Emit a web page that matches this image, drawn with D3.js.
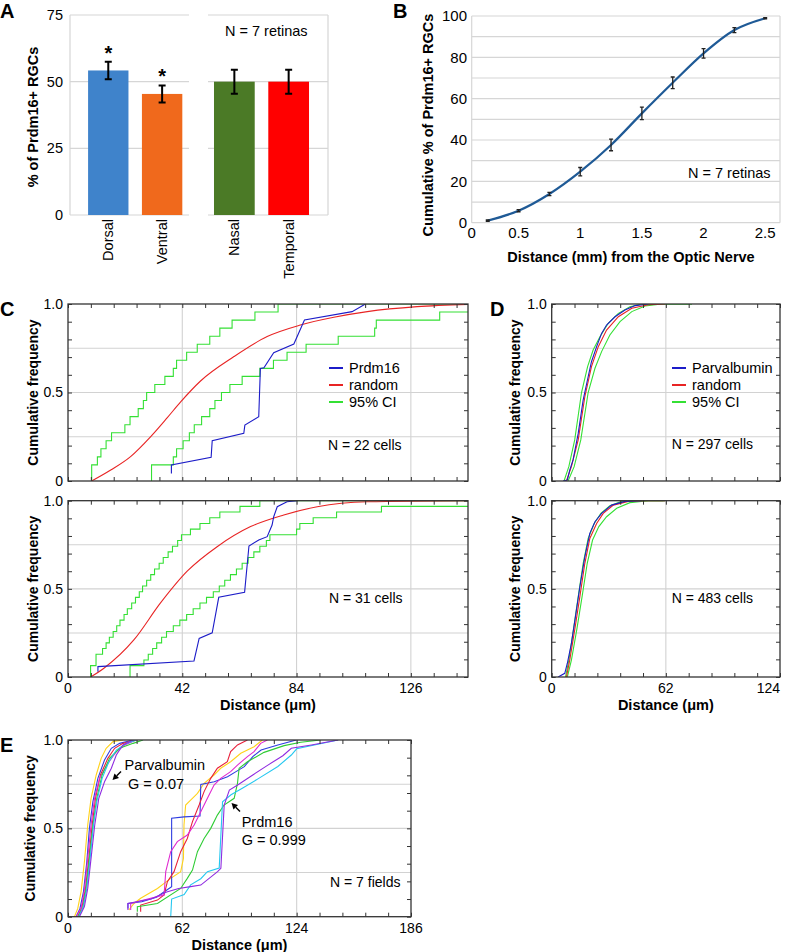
<!DOCTYPE html>
<html>
<head>
<meta charset="utf-8">
<script src="https://cdn.jsdelivr.net/npm/d3@7"></script>
<style>
  body { margin: 0; background: #fff; }
  svg { display: block; font-family: "Liberation Sans", Arial, sans-serif; }
</style>
</head>
<body>
<svg id="fig" width="790" height="952"></svg>
<script>
// ---- panel A : bars ----
const aLeft = ["Dorsal", "Ventral"];
const aRight = ["Nasal", "Temporal"];
const aValues = [54.2, 45.4, 50, 50];
const aErrors = [3.3, 3.2, 4.5, 4.5];
const aColors = ["#3f83cb", "#f0691c", "#4b7a26", "#ff0000"];
const aStars = [true, true, false, false];
const aTicks = [0, 25, 50, 75];

// ---- panel B : cumulative % vs distance ----
const bX = [0.25, 0.5, 0.75, 1, 1.25, 1.5, 1.75, 2, 2.25, 2.5];
const bY = [1.0, 5.8, 13.9, 24.7, 37.6, 52.9, 67.7, 81.9, 93.2, 98.9];
const bErr = [0.3, 0.5, 0.8, 2.0, 2.8, 3.0, 2.8, 2.3, 1.2, 0.3];
const bXTicks = [0.5, 1, 1.5, 2, 2.5];
const bYTicks = [0, 20, 40, 60, 80, 100];

// ---- panel C : Prdm16 vs random (top: 22 cells, bottom: 31 cells) ----
const cTopCiLow = [8.7, 8.7, 10.8, 12.1, 14.0, 16.0, 20.9, 22.8, 25.8, 27.7, 28.9, 31.9, 35.6, 38.7, 39.9, 43.6, 47.5, 52.1, 55.8, 60.3, 68.7, 77.2];
const cTopCiHigh = [30.7, 30.7, 38.7, 39.9, 42.3, 44.6, 46.4, 49.1, 52.1, 54.0, 56.4, 59.5, 64, 70.5, 75.5, 80.5, 87.5, 99.3, 112.7, 113.3, 136.6, 160];
const cTopPrdmX = [38.0, 38.0, 52.6, 53.0, 64.6, 65.0, 70.1, 70.7, 72.0, 75.6, 83.0, 86.9, 104.4, 109.3];
const cTopPrdmY = [0.043, 0.09, 0.134, 0.228, 0.27, 0.316, 0.363, 0.636, 0.64, 0.725, 0.774, 0.91, 0.957, 1.0];
const cTopRandX = [8.7, 15.7, 23.0, 30.4, 36.5, 41.4, 48.7, 61.0, 73.2, 85.4, 97.7, 110.0, 128.3, 147];
const cTopRandY = [0, 0.062, 0.138, 0.251, 0.358, 0.447, 0.565, 0.703, 0.816, 0.881, 0.925, 0.957, 0.985, 0.998];

const cBotCiLow = [8.3, 8.3, 10.3, 10.3, 12.7, 14.0, 15.2, 16.6, 17.9, 19.1, 20.6, 21.8, 23.4, 24.8, 26.2, 27.4, 28.9, 30.4, 31.8, 33.5, 35.0, 36.8, 38.4, 40.3, 41.7, 45.0, 48.5, 52.1, 55.8, 63.2, 70.5];
const cBotCiHigh = [22.8, 22.8, 27.9, 29.5, 31.1, 32.6, 34.4, 36.2, 38.7, 41.1, 43.6, 46.0, 48.5, 50.9, 53.4, 55.6, 57.6, 59.7, 61.9, 64.0, 66.2, 68.3, 70.5, 72.9, 74.2, 84.0, 85.2, 90.1, 98.7, 115.2, 160];
const cBotPrdmX = [11.0, 11.0, 46.3, 48.2, 53.0, 55.4, 64.9, 66.5, 70.1, 73.2, 75.0, 75.6, 76.9, 80.5, 84.2];
const cBotPrdmY = [0.030, 0.059, 0.091, 0.219, 0.251, 0.452, 0.480, 0.743, 0.777, 0.796, 0.862, 0.909, 0.966, 0.994, 1.0];
const cBotRandX = [8.3, 13.2, 24.2, 34.0, 43.8, 54.8, 67.1, 79.3, 91.6, 110, 147];
const cBotRandY = [0, 0.05, 0.21, 0.42, 0.6, 0.739, 0.853, 0.919, 0.966, 0.994, 1.0];

// ---- panel D : Parvalbumin vs random (top: 297 cells, bottom: 483 cells) ----
const dTopPvX = [6.2, 8.5, 9.8, 11.6, 14.4, 17.1, 19.8, 21.6, 24.4, 27.1, 29.8, 34.4, 39.8, 45.3, 52.5];
const dTopPvY = [0, 0.006, 0.062, 0.119, 0.269, 0.458, 0.589, 0.674, 0.759, 0.834, 0.881, 0.928, 0.966, 0.991, 1.0];
const dTopRandX = [8.0, 10.7, 14.4, 18.0, 21.6, 25.3, 29.8, 36.2, 43.5, 52.5, 61.6];
const dTopRandY = [0, 0.081, 0.232, 0.476, 0.646, 0.759, 0.853, 0.928, 0.976, 0.996, 1.0];
const dTopLoX = [6.7, 9.3, 12.5, 16.2, 19.5, 22.5, 26.2, 30.7, 36.2, 42.5, 48.9, 76.2];
const dTopLoY = [0, 0.081, 0.232, 0.5, 0.646, 0.74, 0.815, 0.891, 0.947, 0.985, 1.0, 1.0];
const dTopHiX = [8.9, 12.2, 15.8, 19.8, 23.5, 27.1, 31.6, 37.1, 43.5, 50.7, 59.8, 76.2];
const dTopHiY = [0, 0.081, 0.232, 0.5, 0.637, 0.731, 0.825, 0.9, 0.957, 0.989, 1.0, 1.0];

const dBotPvX = [3.5, 7.1, 8.5, 10.7, 12.9, 15.3, 18.0, 20.7, 23.5, 27.1, 32.5, 39.8, 48.9];
const dBotPvY = [0, 0.021, 0.078, 0.191, 0.342, 0.512, 0.682, 0.815, 0.881, 0.928, 0.975, 0.996, 1.0];
const dBotRandX = [8.0, 9.8, 12.5, 15.3, 18.0, 20.7, 24.4, 28.0, 33.5, 41.6, 50.7, 61.6];
const dBotRandY = [0, 0.096, 0.267, 0.456, 0.645, 0.786, 0.871, 0.928, 0.975, 0.996, 1.0, 1.0];
const dBotLoX = [7.5, 9.3, 11.8, 14.4, 17.1, 19.8, 23.1, 26.7, 31.6, 38.0, 47.1, 61.6];
const dBotLoY = [0, 0.096, 0.267, 0.456, 0.645, 0.786, 0.871, 0.928, 0.972, 0.996, 1.0, 1.0];
const dBotHiX = [8.5, 10.7, 13.6, 16.5, 19.3, 22.2, 25.6, 29.8, 35.3, 42.5, 52.5, 60.7];
const dBotHiY = [0, 0.096, 0.267, 0.456, 0.645, 0.777, 0.853, 0.909, 0.957, 0.989, 1.0, 1.0];

// ---- panel E : 7 fields, Parvalbumin and Prdm16 ----
const eColors = ["#ffd21a", "#2e3de0", "#e8213b", "#e02bd0", "#2fcc35", "#25c8f0", "#8f2be0"];
const ePvX = [
  [3.5, 5.3, 7.1, 8.9, 10.7, 12.5, 15.3, 18.0, 20.7, 24.4, 29.8],
  [4.4, 6.5, 8.4, 10.2, 11.6, 13.5, 16.2, 19.8, 23.5, 28.0, 35.3],
  [5.3, 7.6, 9.5, 11.3, 13.1, 14.9, 17.6, 21.6, 25.3, 29.8, 37.1],
  [4.4, 7.1, 8.9, 10.7, 12.5, 14.4, 17.1, 21.6, 26.2, 30.7, 37.1],
  [5.3, 8.0, 9.8, 11.6, 13.5, 15.6, 18.5, 22.5, 28.0, 35.3, 40.7],
  [5.8, 8.4, 10.2, 12.0, 13.8, 15.6, 18.5, 22.2, 26.2, 31.6, 37.1],
  [6.2, 8.9, 10.7, 12.5, 14.5, 16.7, 19.8, 23.5, 26.2, 29.8, 35.3]
];
const ePvY = [
  [0, 0.047, 0.142, 0.311, 0.519, 0.67, 0.802, 0.896, 0.953, 0.991, 1.0],
  [0, 0.047, 0.142, 0.311, 0.5, 0.651, 0.783, 0.887, 0.953, 0.981, 1.0],
  [0, 0.057, 0.16, 0.33, 0.519, 0.67, 0.802, 0.896, 0.953, 0.981, 1.0],
  [0, 0.047, 0.151, 0.33, 0.519, 0.67, 0.783, 0.868, 0.934, 0.972, 1.0],
  [0, 0.047, 0.16, 0.33, 0.519, 0.67, 0.802, 0.896, 0.953, 0.981, 1.0],
  [0, 0.057, 0.16, 0.33, 0.519, 0.651, 0.783, 0.877, 0.943, 0.981, 1.0],
  [0, 0.057, 0.16, 0.33, 0.519, 0.67, 0.764, 0.84, 0.915, 0.972, 1.0]
];
const ePrX = [
  [33, 35.8, 39.4, 48.5, 55.7, 61.1, 62.6, 62.9, 63.8, 66.5, 70.2, 73.8, 79.2, 82.8, 88.2, 93.7, 100.9, 105.4],
  [32.5, 32.5, 40, 48, 52, 56.2, 56.2, 63, 71.6, 72, 79.3, 86.5, 91.1, 95.6, 100.2, 104.7, 113.8, 123.8],
  [39.4, 39.4, 48.5, 52.1, 53.9, 57.5, 61.1, 64.7, 67.5, 71.1, 73.8, 77.4, 81.0, 86.4, 88.2, 91.9, 97.3],
  [34, 34, 44.8, 52.1, 53, 55.7, 59.3, 64.7, 68.4, 72, 75.6, 79.2, 82.8, 88.2, 91.9, 97.3, 100.9, 104.5, 108.1],
  [37.6, 37.6, 48.5, 61.1, 64.7, 67.5, 70.2, 73.8, 77.4, 81, 84.6, 90.1, 91.9, 92.8, 97.3, 106.3, 117.2, 126.2, 137],
  [55.7, 56.2, 63, 66.5, 72, 75.6, 82, 83.8, 88.4, 95, 103, 113.8, 121.1, 124, 146.5],
  [32.5, 32.5, 45, 53.5, 60, 66.5, 72, 81.1, 82.9, 84.7, 87.5, 92, 100.2, 108.4, 116.5, 121.1, 132, 146.5]
];
const ePrY = [
  [0.038, 0.075, 0.104, 0.16, 0.217, 0.255, 0.33, 0.519, 0.632, 0.66, 0.698, 0.755, 0.802, 0.84, 0.877, 0.925, 0.962, 1.0],
  [0.047, 0.075, 0.085, 0.11, 0.14, 0.17, 0.557, 0.565, 0.57, 0.749, 0.764, 0.792, 0.821, 0.849, 0.906, 0.943, 0.972, 1.0],
  [0.028, 0.066, 0.094, 0.123, 0.198, 0.255, 0.368, 0.443, 0.538, 0.632, 0.708, 0.783, 0.84, 0.877, 0.934, 0.972, 1.0],
  [0.038, 0.075, 0.104, 0.123, 0.255, 0.368, 0.425, 0.462, 0.519, 0.594, 0.67, 0.745, 0.783, 0.821, 0.858, 0.906, 0.934, 0.981, 1.0],
  [0.028, 0.057, 0.075, 0.16, 0.217, 0.264, 0.368, 0.443, 0.5, 0.575, 0.632, 0.67, 0.755, 0.84, 0.877, 0.93, 0.968, 0.987, 1.0],
  [0.0, 0.1, 0.125, 0.18, 0.215, 0.255, 0.275, 0.65, 0.69, 0.73, 0.78, 0.85, 0.915, 0.95, 1.0],
  [0.038, 0.075, 0.1, 0.14, 0.16, 0.17, 0.179, 0.255, 0.274, 0.632, 0.717, 0.745, 0.802, 0.858, 0.911, 0.953, 0.972, 1.0]
];

const BLUE = "#1c1cc8", RED = "#e82424", GREEN = "#34e034";
const svg = d3.select("#fig");
svg.append("rect").attr("width", 790).attr("height", 952).attr("fill", "#fff");

function letter(t, x, y) {
  svg.append("text").attr("x", x).attr("y", y).attr("font-size", 20).attr("font-weight", "bold").text(t);
}
function vlabel(t, x, y, size) {
  svg.append("text").attr("transform", `translate(${x},${y}) rotate(-90)`)
     .attr("text-anchor", "middle").attr("dy", "0.35em")
     .attr("font-size", size || 14).attr("font-weight", "bold").text(t);
}
const zip = (xs, ys) => xs.map((v, i) => [v, ys[i]]);
// empirical CDF from sorted sample positions
function stepPoints(xs, xEnd) {
  const n = xs.length;
  const pts = [[xs[0], 0]].concat(xs.map((v, i) => [v, (i + 1) / n]));
  pts.push([xEnd, 1]);
  return pts;
}

// ================= A =================
letter("A", 0, 18);
const aY = d3.scaleLinear().domain([0, 75]).range([215, 15]);
const aXL = d3.scaleBand().domain(aLeft).range([70, 189]).paddingInner(0.25).paddingOuter(0.23).align(0.73);
const aXR = d3.scaleBand().domain(aRight).range([208, 328]).paddingInner(0.25).paddingOuter(0.23).align(0.24);
const aG = svg.append("g");
[[70, 189], [208, 328]].forEach(r => {
  aG.append("g").selectAll("line").data(aTicks).join("line")
    .attr("x1", r[0]).attr("x2", r[1]).attr("y1", d => aY(d)).attr("y2", d => aY(d))
    .attr("stroke", "#d6d6d6").attr("stroke-width", 1.2);
});
aG.append("line").attr("x1", 70).attr("x2", 70).attr("y1", aY(75)).attr("y2", aY(0)).attr("stroke", "#d6d6d6").attr("stroke-width", 1.2);
aG.append("line").attr("x1", 328).attr("x2", 328).attr("y1", aY(75)).attr("y2", aY(0)).attr("stroke", "#d6d6d6").attr("stroke-width", 1.2);
aG.append("g").selectAll("text").data(aTicks).join("text")
  .attr("x", 63).attr("y", d => aY(d)).attr("dy", "0.35em").attr("text-anchor", "end")
  .attr("font-size", 14.5).text(d => d);
const aCats = aLeft.concat(aRight);
const aPos = c => aLeft.includes(c) ? aXL(c) : aXR(c);
const aBw = c => aLeft.includes(c) ? aXL.bandwidth() : aXR.bandwidth();
aCats.forEach((c, i) => {
  const x0 = aPos(c), w = aBw(c), cx = x0 + w / 2;
  aG.append("rect").attr("x", x0).attr("y", aY(aValues[i])).attr("width", w)
    .attr("height", aY(0) - aY(aValues[i])).attr("fill", aColors[i]);
  const hi = aY(aValues[i] + aErrors[i]), lo = aY(aValues[i] - aErrors[i]);
  aG.append("path").attr("d", `M${cx},${hi}V${lo}M${cx - 3.5},${hi}H${cx + 3.5}M${cx - 3.5},${lo}H${cx + 3.5}`)
    .attr("stroke", "#000").attr("stroke-width", 2).attr("fill", "none");
  if (aStars[i]) {
    aG.append("text").attr("x", cx).attr("y", hi - 2).attr("text-anchor", "middle")
      .attr("font-size", 20).attr("font-weight", "bold").text("*");
  }
  aG.append("text").attr("transform", `translate(${cx},219) rotate(-90)`)
    .attr("text-anchor", "end").attr("dy", "0.35em").attr("font-size", 14.5).text(c);
});
aG.append("text").attr("x", 225).attr("y", 31).attr("dy", "0.35em").attr("font-size", 14.5).text("N = 7 retinas");
vlabel("% of Prdm16+ RGCs", 33, 117, 14.5);

// ================= B =================
letter("B", 393, 18);
const bx = d3.scaleLinear().domain([0.12, 2.62]).range([471.7, 780]);
const by = d3.scaleLinear().domain([0, 100]).range([222.7, 16]);
const bG = svg.append("g");
bG.append("g").selectAll("line").data(d3.range(0, 101, 10)).join("line")
  .attr("x1", 471.7).attr("x2", 780).attr("y1", d => by(d)).attr("y2", d => by(d))
  .attr("stroke", "#d6d6d6").attr("stroke-width", 1.2);
[471.7, 780].forEach(xv => bG.append("line").attr("x1", xv).attr("x2", xv).attr("y1", by(100)).attr("y2", by(0))
  .attr("stroke", "#d6d6d6").attr("stroke-width", 1.2));
bG.append("g").selectAll("text").data(bYTicks).join("text")
  .attr("x", 467).attr("y", d => by(d)).attr("dy", "0.35em").attr("text-anchor", "end")
  .attr("font-size", 15).text(d => d);
bG.append("g").selectAll("text").data([bx.domain()[0]].concat(bXTicks)).join("text")
  .attr("x", d => bx(d)).attr("y", 233).attr("dy", "0.35em").attr("text-anchor", "middle")
  .attr("font-size", 15).text((d, i) => i === 0 ? "0" : d);
const bPts = zip(bX, bY);
bG.append("path").attr("d", d3.line().x(d => bx(d[0])).y(d => by(d[1])).curve(d3.curveMonotoneX)(bPts))
  .attr("fill", "none").attr("stroke", "#1f5a96").attr("stroke-width", 2.2);
bPts.forEach((p, i) => {
  const cx = bx(p[0]), hi = by(p[1] + bErr[i]), lo = by(p[1] - bErr[i]);
  bG.append("path").attr("d", `M${cx},${hi}V${lo}M${cx - 2},${hi}H${cx + 2}M${cx - 2},${lo}H${cx + 2}`)
    .attr("stroke", "#222").attr("stroke-width", 1.3).attr("fill", "none");
});
bG.append("text").attr("x", 688).attr("y", 173).attr("dy", "0.35em").attr("font-size", 14.5).text("N = 7 retinas");
bG.append("text").attr("x", 631).attr("y", 257).attr("dy", "0.35em").attr("text-anchor", "middle")
  .attr("font-size", 14.5).attr("font-weight", "bold").text("Distance (mm) from the Optic Nerve");
vlabel("Cumulative % of Prdm16+ RGCs", 428, 125, 14.5);

// ================= C / D / E framed CDF panels =================
let clipN = 0;
function cdfPanel(p) {
  const x = d3.scaleLinear().domain([0, p.xMax]).range([p.left, p.right]);
  const y = d3.scaleLinear().domain([0, 1]).range([p.bottom, p.top]);
  const g = svg.append("g");
  const id = "clip" + (clipN++);
  g.append("clipPath").attr("id", id).append("rect")
    .attr("x", p.left).attr("y", p.top).attr("width", p.right - p.left).attr("height", p.bottom - p.top);
  const grid = "#d2d2d2";
  g.append("g").selectAll("line").data(p.xGrid).join("line")
    .attr("x1", d => x(d)).attr("x2", d => x(d)).attr("y1", p.top).attr("y2", p.bottom)
    .attr("stroke", grid).attr("stroke-width", 1.1);
  g.append("g").selectAll("line").data([0.25, 0.5, 0.75]).join("line")
    .attr("x1", p.left).attr("x2", p.right).attr("y1", d => y(d)).attr("y2", d => y(d))
    .attr("stroke", grid).attr("stroke-width", 1.1);

  const lines = g.append("g").attr("clip-path", `url(#${id})`);
  p.series.forEach(s => {
    const line = d3.line().x(d => x(d[0])).y(d => y(d[1])).curve(s.curve || d3.curveLinear);
    lines.append("path").attr("d", line(s.points)).attr("fill", "none")
      .attr("stroke", s.color).attr("stroke-width", s.width || 1.1);
  });

  const minorX = d3.range(0, p.xMax + 1e-6, p.xMajor / 5);
  const minorY = d3.range(0, 1.0001, 0.1);
  const noDomain = a => a.select(".domain").remove();
  const tk = a => a.selectAll("line").attr("stroke", "#333");
  g.append("g").attr("transform", `translate(0,${p.bottom})`)
    .call(d3.axisBottom(x).tickValues(minorX).tickSize(-4).tickFormat("")).call(noDomain).call(tk);
  g.append("g").attr("transform", `translate(0,${p.top})`)
    .call(d3.axisTop(x).tickValues(minorX).tickSize(-4).tickFormat("")).call(noDomain).call(tk);
  g.append("g").attr("transform", `translate(${p.left},0)`)
    .call(d3.axisLeft(y).tickValues(minorY).tickSize(-4).tickFormat("")).call(noDomain).call(tk);
  g.append("g").attr("transform", `translate(${p.right},0)`)
    .call(d3.axisRight(y).tickValues(minorY).tickSize(-4).tickFormat("")).call(noDomain).call(tk);
  g.append("rect").attr("x", p.left).attr("y", p.top).attr("width", p.right - p.left)
    .attr("height", p.bottom - p.top).attr("fill", "none").attr("stroke", "#333").attr("stroke-width", 1.3);

  g.append("g").selectAll("text").data([0, 0.5, 1]).join("text")
    .attr("x", p.left - 5).attr("y", d => y(d)).attr("dy", "0.35em").attr("text-anchor", "end")
    .attr("font-size", 14).text(d => d === 0 ? "0" : d.toFixed(1));
  if (p.xLabels) {
    g.append("g").selectAll("text").data(p.xLabels).join("text")
      .attr("x", d => Math.min(x(d), 789))
      .attr("text-anchor", d => x(d) + 12 > 790 ? "end" : "middle")
      .attr("y", p.bottom + 11).attr("dy", "0.35em")
      .attr("font-size", 14).text(d => d);
  }
  if (p.xTitle) {
    g.append("text").attr("x", (p.left + p.right) / 2).attr("y", p.bottom + 28).attr("dy", "0.35em")
      .attr("text-anchor", "middle").attr("font-size", 14.5).attr("font-weight", "bold").text("Distance (\u03bcm)");
  }
  vlabel("Cumulative frequency", p.ylabX, (p.top + p.bottom) / 2, 14);
  if (p.note) {
    g.append("text").attr("x", p.note[1]).attr("y", p.note[2]).attr("dy", "0.35em").attr("font-size", 14).text(p.note[0]);
  }
  if (p.legend) {
    p.legend.forEach((l, i) => {
      const yy = p.legendY + i * 17;
      g.append("line").attr("x1", p.legendX).attr("x2", p.legendX + 14).attr("y1", yy).attr("y2", yy)
        .attr("stroke", l[1]).attr("stroke-width", 2);
      g.append("text").attr("x", p.legendX + 20).attr("y", yy).attr("dy", "0.35em").attr("font-size", 14.5).text(l[0]);
    });
  }
  return { x, y, g };
}

// ---- C ----
letter("C", 0, 316);
cdfPanel({
  left: 68, right: 468, top: 304, bottom: 481, xMax: 147, xMajor: 42, xGrid: [42, 84, 126], ylabX: 33,
  series: [
    { points: stepPoints(cTopCiLow, 147), color: GREEN, curve: d3.curveStepAfter },
    { points: stepPoints(cTopCiHigh, 170), color: GREEN, curve: d3.curveStepAfter },
    { points: zip(cTopRandX, cTopRandY), color: RED, curve: d3.curveMonotoneX },
    { points: zip(cTopPrdmX, cTopPrdmY), color: BLUE }
  ],
  legend: [["Prdm16", BLUE], ["random", RED], ["95% CI", GREEN]], legendX: 329, legendY: 368,
  note: ["N = 22 cells", 328, 445]
});
cdfPanel({
  left: 68, right: 468, top: 500.7, bottom: 677, xMax: 147, xMajor: 42, xGrid: [42, 84, 126], ylabX: 33,
  series: [
    { points: stepPoints(cBotCiLow, 147), color: GREEN, curve: d3.curveStepAfter },
    { points: stepPoints(cBotCiHigh, 170), color: GREEN, curve: d3.curveStepAfter },
    { points: zip(cBotRandX, cBotRandY), color: RED, curve: d3.curveMonotoneX },
    { points: zip(cBotPrdmX, cBotPrdmY), color: BLUE }
  ],
  xLabels: [0, 42, 84, 126], xTitle: true,
  note: ["N = 31 cells", 329, 598]
});

// ---- D ----
letter("D", 490, 316);
cdfPanel({
  left: 551.7, right: 780, top: 304, bottom: 481, xMax: 124, xMajor: 62, xGrid: [62], ylabX: 515,
  series: [
    { points: zip(dTopLoX, dTopLoY), color: GREEN },
    { points: zip(dTopHiX, dTopHiY), color: GREEN },
    { points: zip(dTopRandX, dTopRandY), color: RED },
    { points: zip(dTopPvX, dTopPvY), color: BLUE }
  ],
  legend: [["Parvalbumin", BLUE], ["random", RED], ["95% CI", GREEN]], legendX: 672, legendY: 368,
  note: ["N = 297 cells", 671.7, 444.5]
});
cdfPanel({
  left: 551.7, right: 780, top: 500.7, bottom: 677, xMax: 124, xMajor: 62, xGrid: [62], ylabX: 515,
  series: [
    { points: zip(dBotLoX, dBotLoY), color: GREEN },
    { points: zip(dBotHiX, dBotHiY), color: GREEN },
    { points: zip(dBotRandX, dBotRandY), color: RED },
    { points: zip(dBotPvX, dBotPvY), color: BLUE }
  ],
  xLabels: [0, 62, 124], xTitle: true,
  note: ["N = 483 cells", 671.7, 598]
});

// ---- E ----
letter("E", 0, 752);
const eSeries = [];
eColors.forEach((c, i) => {
  eSeries.push({ points: zip(ePvX[i], ePvY[i]), color: c });
  eSeries.push({ points: zip(ePrX[i], ePrY[i]), color: c });
});
cdfPanel({
  left: 68, right: 411, top: 740, bottom: 916.7, xMax: 186, xMajor: 62, xGrid: [62, 124], ylabX: 30,
  series: eSeries,
  xLabels: [0, 62, 124, 186], xTitle: true,
  note: ["N = 7 fields", 330, 882]
});
function arrow(x1, y1, x2, y2) {
  const a = Math.atan2(y2 - y1, x2 - x1), L = 6, W = 3.2;
  const bx1 = x2 - L * Math.cos(a), by1 = y2 - L * Math.sin(a);
  svg.append("line").attr("x1", x1).attr("y1", y1).attr("x2", bx1).attr("y2", by1).attr("stroke", "#000").attr("stroke-width", 1.4);
  svg.append("path").attr("d", `M${x2},${y2}L${bx1 + W * Math.sin(a)},${by1 - W * Math.cos(a)}L${bx1 - W * Math.sin(a)},${by1 + W * Math.cos(a)}Z`).attr("fill", "#000");
}
arrow(121, 771.5, 112.5, 780);
arrow(240, 811.5, 231.5, 803);
[["Parvalbumin", 124.5, 765], ["G = 0.07", 128, 783.5], ["Prdm16", 241.7, 821.7], ["G = 0.999", 241.7, 840]].forEach(t => {
  svg.append("text").attr("x", t[1]).attr("y", t[2]).attr("dy", "0.35em").attr("font-size", 14.5).text(t[0]);
});
</script>
</body>
</html>
